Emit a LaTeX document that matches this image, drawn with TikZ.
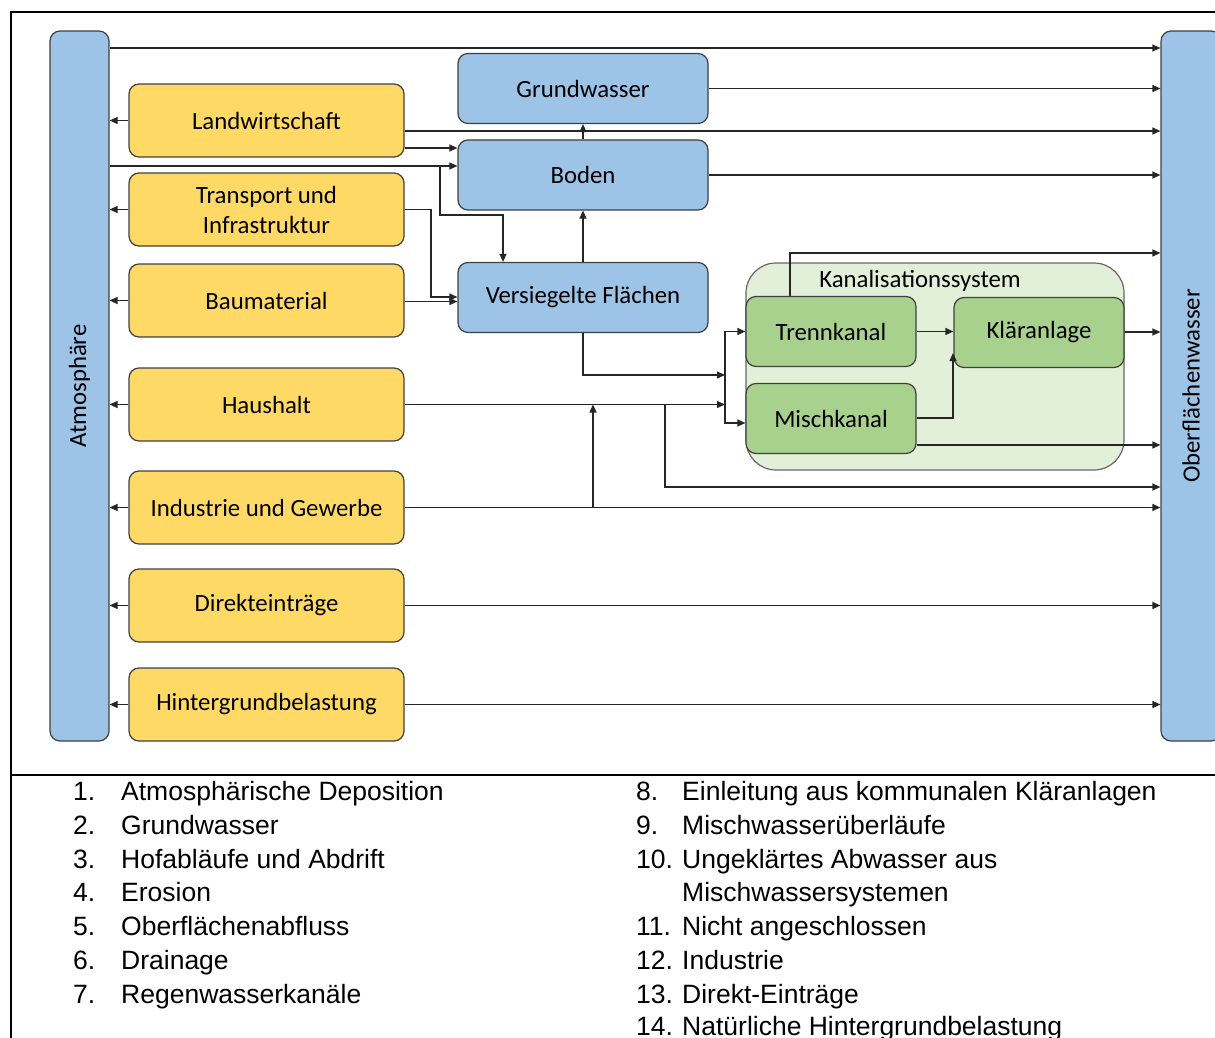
\documentclass[tikz,border=0pt]{standalone}
\usepackage{fontspec}
\setmainfont{Carlito}
\newfontfamily\legfont{Liberation Sans}
\usetikzlibrary{arrows.meta,calc}
\definecolor{yfill}{HTML}{FFD966}
\definecolor{bfill}{HTML}{9DC3E6}
\definecolor{gfill}{HTML}{A9D18E}
\definecolor{kfill}{HTML}{E2F0D9}
\definecolor{edge}{HTML}{404040}
\tikzset{
  box/.style={draw=edge, line width=1.2pt, rounded corners=10pt, align=center,
    font=\fontsize{24.8}{30}\selectfont, inner sep=0pt},
  ybox/.style={box, fill=yfill, minimum width=275pt, minimum height=73pt},
  bbox/.style={box, fill=bfill, minimum width=250pt, minimum height=70pt},
  gbox/.style={box, fill=gfill, minimum width=170pt, minimum height=70pt},
  bar/.style={box, fill=bfill, minimum width=59pt, minimum height=710pt},
  arr/.style={draw=black!85, line width=1.2pt, -{Triangle[length=8pt,width=7pt]}},
  frame/.style={draw=black, line width=1.8pt},
  legn/.style={anchor=base west, font=\legfont\fontsize{26.5}{30}\selectfont, inner sep=0pt},
}
\begin{document}
\begin{tikzpicture}[x=1pt,y=-1pt]
\useasboundingbox (0,0) rectangle (1215,1038);
% frame
\draw[frame] (1215,12) -- (11,12) -- (11,1038);
\draw[frame] (11,775) -- (1215,775);

% bars
\node[bar] (atm) at (79.5,386) {\rotatebox{90}{Atmosphäre}};
\node[bar, minimum width=60pt] (ow) at (1191,386) {\rotatebox{90}{Oberflächenwasser}};

% yellow boxes
\node[ybox] (lw)  at (266.5,120.5) {Landwirtschaft};
\node[ybox] (tr)  at (266.5,209.5) {Transport und\\Infrastruktur};
\node[ybox] (bm)  at (266.5,300.5) {Baumaterial};
\node[ybox] (hh)  at (266.5,404.5) {Haushalt};
\node[ybox] (ind) at (266.5,507.5) {Industrie und Gewerbe};
\node[ybox] (di)  at (266.5,605.5) {Direkteinträge};
\node[ybox] (hg)  at (266.5,704.5) {Hintergrundbelastung};

% blue boxes
\node[bbox] (gw) at (583,88.5) {Grundwasser};
\node[bbox] (bo) at (583,175) {Boden};
\node[bbox] (vf) at (583,297.5) {Versiegelte Flächen};

% sewer system
\node[box, rounded corners=30pt, fill=kfill, draw=black!60, minimum width=378pt, minimum height=207pt] (ks) at (935,366.5) {};
\node[font=\fontsize{24.8}{30}\selectfont, inner sep=0pt] (kst) at (920,281) {Kanalisationssystem};
\node[gbox] (tk) at (831,331.5) {Trennkanal};
\node[gbox] (mk) at (831,418.5) {Mischkanal};
\node[gbox] (kl) at (1039,332.5) {Kläranlage};

% yellow -> atmosphere
\foreach \n in {lw,tr,bm,hh,ind,di,hg}{
  \draw[arr] (\n.west) -- (atm.east|-\n.west);
}
% atmosphere -> surface water (top)
\draw[arr] (atm.east|-0,48) -- (ow.west|-0,48);
% groundwater -> surface water
\draw[arr] (gw.east) -- (ow.west|-gw.east);
% Landwirtschaft
\draw[arr] (lw.east|-0,131) -- (ow.west|-0,131);
\draw[arr] (lw.east|-0,148) -- (bo.west|-0,148);
% atmosphere -> Boden and -> Versiegelte
\coordinate (j1) at (440,166);
\draw[arr] (atm.east|-0,166) -- (bo.west|-0,166);
\draw[arr] (j1) -- (440,215) -- (503,215) -- (vf.north-|503,0);
% vertical flows
\draw[arr] (bo.north) -- (gw.south);
\draw[arr] (vf.north) -- (bo.south);
\draw[arr] (bo.east) -- (ow.west|-bo.east);
% Transport and Baumaterial -> Versiegelte
\draw[arr] (tr.east) -- (431,209.5) -- (431,297) -- (vf.west|-0,297);
\draw[arr] (bm.east|-0,301.5) -- (vf.west|-0,301.5);
% Versiegelte -> sewers
\coordinate (bus) at (725,375);
\draw[arr] (vf.south) -- (583,375) -- (bus);
\draw[arr] (hh.east) -- (725,404.5);
\draw[arr] (725,375) -- (725,331.5) -- (tk.west);
\draw[arr] (725,375) -- (725,423) -- (mk.west|-0,423);
% Industrie -> Haushalt line
\draw[arr] (593,507.5) -- (593,404.5);
% not connected
\draw[arr] (665,404.5) -- (665,487) -- (ow.west|-0,487);
% inside sewer system
\draw[arr] (tk.east) -- (kl.west|-tk.east);
\draw[arr] (mk.east|-0,418) -- (953,418) -- (953,353);
\draw[arr] (kl.east|-0,332) -- (ow.west|-0,332);
\draw[arr] (mk.east|-0,445) -- (ow.west|-0,445);
\draw[arr] (tk.north-|790,0) -- (790,253) -- (ow.west|-0,253);
% direct to surface water
\draw[arr] (ind.east) -- (ow.west|-ind.east);
\draw[arr] (di.east) -- (ow.west|-di.east);
\draw[arr] (hg.east) -- (ow.west|-hg.east);

% legend
\node[legn] (n1) at (73,800) {1.};   \node[legn] (t1) at (121,800) {Atmosphärische Deposition};
\node[legn] (n2) at (73,834) {2.};   \node[legn] (t2) at (121,834) {Grundwasser};
\node[legn] (n3) at (73,868) {3.};   \node[legn] (t3) at (121,868) {Hofabläufe und Abdrift};
\node[legn] (n4) at (73,901) {4.};   \node[legn] (t4) at (121,901) {Erosion};
\node[legn] (n5) at (73,935) {5.};   \node[legn] (t5) at (121,935) {Oberflächenabfluss};
\node[legn] (n6) at (73,969) {6.};   \node[legn] (t6) at (121,969) {Drainage};
\node[legn] (n7) at (73,1003) {7.};  \node[legn] (t7) at (121,1003) {Regenwasserkanäle};
\node[legn] (n8) at (636,800) {8.};  \node[legn] (t8) at (682,800) {Einleitung aus kommunalen Kläranlagen};
\node[legn] (n9) at (636,834) {9.};  \node[legn] (t9) at (682,834) {Mischwasserüberläufe};
\node[legn] (n10) at (636,868) {10.}; \node[legn] (t10) at (682,868) {Ungeklärtes Abwasser aus};
\node[legn] (t10b) at (682,901) {Mischwassersystemen};
\node[legn] (n11) at (636,935) {11.}; \node[legn] (t11) at (682,935) {Nicht angeschlossen};
\node[legn] (n12) at (636,969) {12.}; \node[legn] (t12) at (682,969) {Industrie};
\node[legn] (n13) at (636,1003) {13.}; \node[legn] (t13) at (682,1003) {Direkt-Einträge};
\node[legn] (n14) at (636,1035) {14.}; \node[legn] (t14) at (682,1035) {Natürliche Hintergrundbelastung};
\end{tikzpicture}
\end{document}
